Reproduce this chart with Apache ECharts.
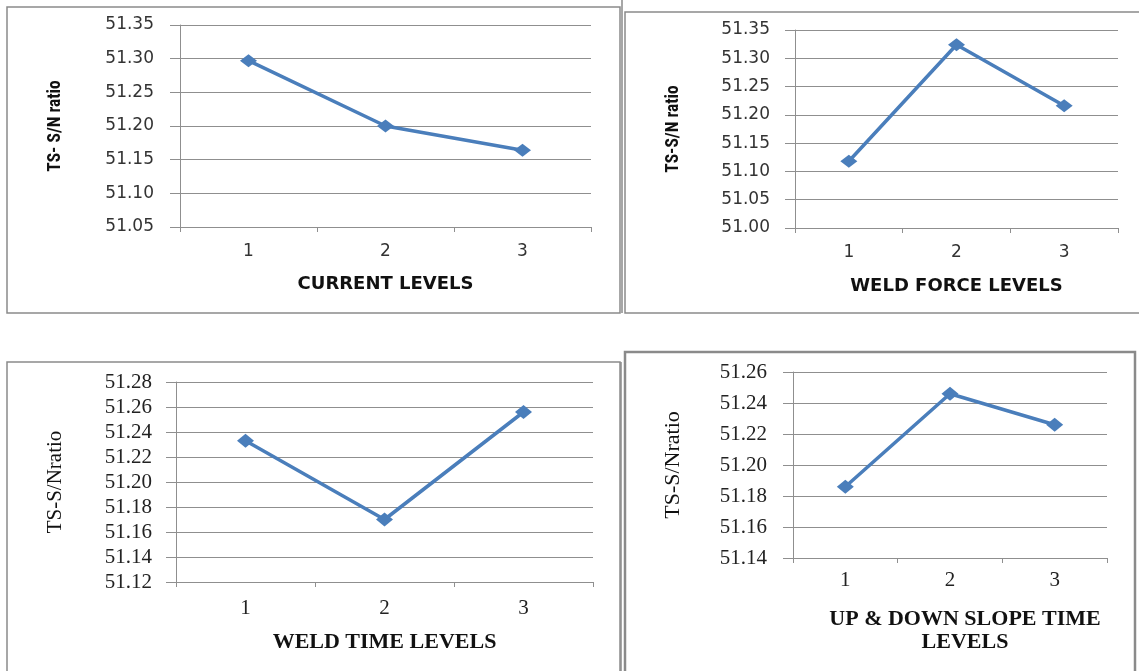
<!DOCTYPE html>
<html>
<head>
<meta charset="utf-8">
<script src="https://cdn.jsdelivr.net/npm/echarts@6/dist/echarts.min.js"></script>
<style>
html,body{margin:0;padding:0;background:#fff;}
#chart{width:1139px;height:671px;}
</style>
</head>
<body>
<div id="chart"></div>
<script>
// ---- data ----
const categories = ['1', '2', '3'];
const currentSN   = [51.297, 51.200, 51.164];
const weldForceSN = [51.118, 51.324, 51.216];
const weldTimeSN  = [51.233, 51.170, 51.256];
const slopeTimeSN = [51.186, 51.246, 51.226];

const ticksCurrent   = [51.05, 51.10, 51.15, 51.20, 51.25, 51.30, 51.35];
const ticksForce     = [51.00, 51.05, 51.10, 51.15, 51.20, 51.25, 51.30, 51.35];
const ticksWeldTime  = [51.12, 51.14, 51.16, 51.18, 51.20, 51.22, 51.24, 51.26, 51.28];
const ticksSlope     = [51.14, 51.16, 51.18, 51.20, 51.22, 51.24, 51.26];

const xTitles = ['CURRENT LEVELS', 'WELD FORCE LEVELS', 'WELD TIME LEVELS', 'UP & DOWN SLOPE TIME\nLEVELS'];
const yTitles = ['TS- S/N ratio', 'TS-S/N ratio', 'TS-S/Nratio', 'TS-S/Nratio'];

// ---- layout / style ----
const grids = [
  {left: 180, top: 25, width: 411, height: 202},
  {left: 795, top: 30, width: 323, height: 198},
  {left: 176, top: 382, width: 417, height: 200},
  {left: 793, top: 372, width: 314, height: 186}
];
const series = [currentSN, weldForceSN, weldTimeSN, slopeTimeSN];
const ticks = [ticksCurrent, ticksForce, ticksWeldTime, ticksSlope];
const GRID = '#8f8f8f';
const sans = 'DejaVu Sans';
const serif = 'Liberation Serif';
const narrow = "'Roboto Condensed', Roboto, sans-serif";
const panelStyle = [
  {tickFont: sans, tickSize: 17, tickColor: '#333', xFont: sans, xSize: 18, xWeight: 'bold', xGap: 46, xLabelMargin: 16,
   yFont: narrow, ySize: 17.5, yWeight: 'bold', yGap: 115, yLabelMargin: 26, sym: [17, 13], pad: [0,0,0,0]},
  {tickFont: sans, tickSize: 17, tickColor: '#333', xFont: sans, xSize: 18, xWeight: 'bold', xGap: 47, xLabelMargin: 16,
   yFont: narrow, ySize: 17.5, yWeight: 'bold', yGap: 112, yLabelMargin: 25, sym: [17, 13], pad: [0,0,0,0]},
  {tickFont: serif, tickSize: 21, tickColor: '#222', xFont: serif, xSize: 22, xWeight: 'bold', xGap: 49, xLabelMargin: 16,
   yFont: serif, ySize: 21, yWeight: 'normal', yGap: 110, yLabelMargin: 24, sym: [17, 14], pad: [0,0,0,0]},
  {tickFont: serif, tickSize: 21, tickColor: '#222', xFont: serif, xSize: 22, xWeight: 'bold', xGap: 50, xLabelMargin: 12,
   yFont: serif, ySize: 22, yWeight: 'normal', yGap: 109, yLabelMargin: 26, sym: [17, 14], pad: [0,0,0,30]}
];

const xAxis = [], yAxis = [], seriesOpt = [];
for (let i = 0; i < 4; i++) {
  const s = panelStyle[i];
  const t = ticks[i];
  xAxis.push({
    type: 'category', gridIndex: i, data: categories, boundaryGap: true,
    axisLine: {show: true, lineStyle: {color: GRID, width: 1}},
    axisTick: {show: true, length: 5, lineStyle: {color: GRID}},
    axisLabel: {fontFamily: s.tickFont, fontSize: s.tickSize, color: s.tickColor, margin: s.xLabelMargin},
    name: xTitles[i], nameLocation: 'middle', nameGap: s.xGap,
    nameTextStyle: {fontFamily: s.xFont, fontSize: s.xSize, fontWeight: s.xWeight, color: '#111',
                    lineHeight: 23, padding: s.pad}
  });
  yAxis.push({
    type: 'value', gridIndex: i,
    min: t[0], max: t[t.length - 1], interval: Math.round((t[1] - t[0]) * 100) / 100,
    axisLine: {show: true, lineStyle: {color: GRID, width: 1}},
    axisTick: {show: true, length: 10, lineStyle: {color: GRID}},
    splitLine: {show: true, lineStyle: {color: GRID, width: 1}},
    axisLabel: {fontFamily: s.tickFont, fontSize: s.tickSize, color: s.tickColor, margin: s.yLabelMargin,
                formatter: v => v.toFixed(2)},
    name: yTitles[i], nameLocation: 'middle', nameRotate: 90, nameGap: s.yGap,
    nameTextStyle: {fontFamily: s.yFont, fontSize: s.ySize, fontWeight: s.yWeight, color: '#111'}
  });
  seriesOpt.push({
    type: 'line', xAxisIndex: i, yAxisIndex: i, data: series[i],
    symbol: 'diamond', symbolSize: s.sym, showSymbol: true,
    lineStyle: {color: '#4A7EBB', width: 3.5},
    itemStyle: {color: '#4A7EBB'},
    animation: false
  });
}

const chart = echarts.init(document.getElementById('chart'));
chart.setOption({
  backgroundColor: '#fff',
  animation: false,
  grid: grids,
  xAxis: xAxis,
  yAxis: yAxis,
  series: seriesOpt,
  graphic: [
    {type: 'rect', shape: {x: 7, y: 7, width: 613, height: 306}, style: {fill: 'none', stroke: '#8a8a8a', lineWidth: 1.5}, z: -1},
    {type: 'rect', shape: {x: 625, y: 12, width: 600, height: 301}, style: {fill: 'none', stroke: '#8a8a8a', lineWidth: 1.5}, z: -1},
    {type: 'rect', shape: {x: 7, y: 362, width: 613, height: 400}, style: {fill: 'none', stroke: '#8a8a8a', lineWidth: 1.5}, z: -1},
    {type: 'rect', shape: {x: 625, y: 352, width: 510, height: 400}, style: {fill: 'none', stroke: '#8a8a8a', lineWidth: 2.5}, z: -1},
    {type: 'line', shape: {x1: 621, y1: 362, x2: 621, y2: 671}, style: {stroke: '#8a8a8a', lineWidth: 1.5}, z: -1},
    {type: 'line', shape: {x1: 622, y1: 0, x2: 622, y2: 313}, style: {stroke: '#8a8a8a', lineWidth: 1.5}, z: -1}
  ]
});
</script>
</body>
</html>
